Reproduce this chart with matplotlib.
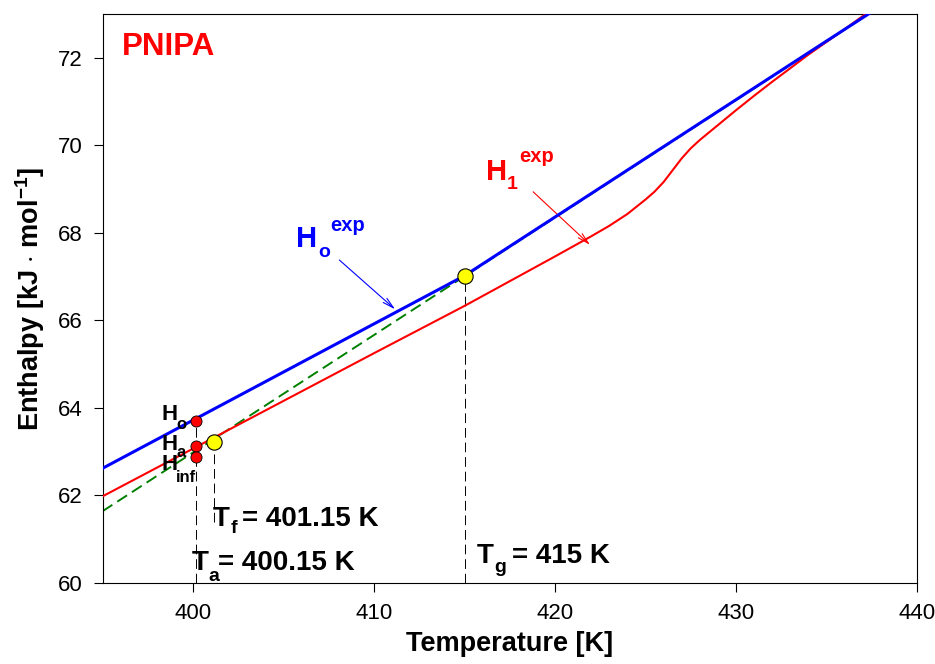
import matplotlib
matplotlib.use("Agg")
import matplotlib.pyplot as plt

plt.rcParams['font.family'] = ['Liberation Sans', 'DejaVu Sans']
plt.rcParams['mathtext.fontset'] = 'custom'
plt.rcParams['mathtext.rm'] = 'Liberation Sans'
plt.rcParams['mathtext.bf'] = 'Liberation Sans:bold'

# enthalpy curves (T in K, H in kJ/mol)
blue_T = [395, 400, 405, 410, 415, 420, 425, 430, 435, 438]
blue_H = [62.62, 63.72, 64.82, 65.92, 67.02, 68.36, 69.70, 71.04, 72.38, 73.18]

green_T = [395, 438]
green_H = [61.64, 73.18]

red_T = [395, 400, 405, 410, 415, 420, 422, 423, 424, 425, 425.5, 426, 426.5,
         427, 427.5, 428, 429, 430, 431, 432, 434, 436, 438]
red_H = [61.98, 63.07, 64.16, 65.25, 66.33, 67.46, 67.92, 68.16, 68.43, 68.76,
         68.94, 69.16, 69.43, 69.70, 69.93, 70.12, 70.46, 70.80, 71.13, 71.45,
         72.07, 72.65, 73.25]

# characteristic temperatures and enthalpies
T_a = 400.15
T_f = 401.15
T_g = 415.0
H_points = [63.70, 63.12, 62.88]   # Ho, Ha, Hinf at T_a
H_f = 63.22
H_g = 67.02

fig = plt.figure(figsize=(9.35, 6.64), dpi=100)
ax = fig.add_axes([0.1097, 0.122, 0.871, 0.857])

ax.plot(green_T, green_H, color='#008000', lw=1.4, ls=(0, (6, 3)), zorder=2)
ax.plot(red_T, red_H, color='red', lw=1.5, zorder=3)
ax.plot(blue_T, blue_H, color='blue', lw=2.2, zorder=4)

# drop lines to the axis
dash = (0, (10, 5))
ax.plot([T_a, T_a], [60, H_points[0]], color='black', lw=0.7, ls=dash, zorder=1)
ax.plot([T_f, T_f], [61.4, H_f], color='black', lw=0.7, ls=dash, zorder=1)
ax.plot([T_g, T_g], [60, H_g], color='black', lw=0.7, ls=dash, zorder=1)

ax.plot([T_a] * 3, H_points, 'o', color='red', mec='black', mew=0.6, ms=8, zorder=6)
ax.plot([T_f, T_g], [H_f, H_g], 'o', color='yellow', mec='black', mew=0.8, ms=11, zorder=6)

ax.set_xlim(395, 440)
ax.set_ylim(60, 73)
ax.set_xticks([400, 410, 420, 430, 440])
ax.set_yticks([60, 62, 64, 66, 68, 70, 72])
ax.tick_params(direction='out', length=6.5, width=0.8, labelsize=16, pad=8)
for s in ax.spines.values():
    s.set_linewidth(0.8)

ax.set_xlabel('Temperature [K]', fontsize=19.5, fontweight='bold', labelpad=5)
ax.set_ylabel(r'Enthalpy [kJ $\cdot$ mol$^{\mathbf{-1}}$]', fontsize=19.5,
              fontweight='bold', labelpad=8)

ax.text(396.07, 72.06, 'PNIPA', color='red', fontsize=22.5, fontweight='bold')


def txt(x, y, s, size, color='black'):
    ax.text(x, y, s, fontsize=size, fontweight='bold', color=color,
            va='baseline', ha='left', zorder=7)


# curve labels with arrows
txt(405.70, 67.67, 'H', 21, 'blue')
txt(406.92, 67.45, 'o', 14, 'blue')
txt(407.58, 68.04, 'exp', 14.5, 'blue')
ax.annotate('', xy=(411.28, 66.21), xytext=(407.97, 67.42),
            arrowprops=dict(arrowstyle='->,head_length=0.8,head_width=0.2',
                            color='blue', lw=0.8))

txt(416.21, 69.21, 'H', 21, 'red')
txt(417.31, 69.00, '1', 14, 'red')
txt(418.03, 69.62, 'exp', 14.5, 'red')
ax.annotate('', xy=(422.05, 67.68), xytext=(418.68, 68.98),
            arrowprops=dict(arrowstyle='->,head_length=0.8,head_width=0.2',
                            color='red', lw=0.8))

# point labels
txt(398.26, 63.72, 'H', 16)
txt(399.06, 63.51, 'o', 12)
txt(398.26, 63.03, 'H', 16)
txt(399.06, 62.87, 'a', 12)
txt(398.26, 62.58, 'H', 16)
txt(399.06, 62.30, 'inf', 12)

txt(401.11, 61.30, 'T', 20)
txt(402.05, 61.14, 'f', 14)
txt(402.71, 61.30, '= 401.15 K', 20)

txt(399.94, 60.29, 'T', 20)
txt(400.86, 60.04, 'a', 14)
txt(401.38, 60.29, '= 400.15 K', 20)

txt(415.65, 60.45, 'T', 20)
txt(416.62, 60.25, 'g', 14)
txt(417.64, 60.45, '= 415 K', 20)

fig.savefig('out.png', dpi=100)
